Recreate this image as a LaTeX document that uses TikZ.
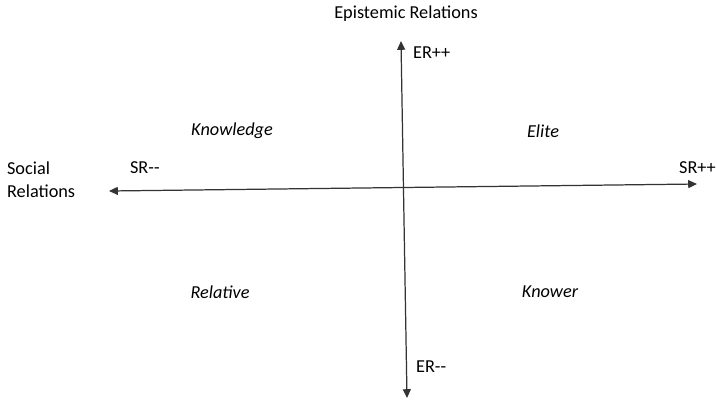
\documentclass[tikz,border=0pt]{standalone}
\usepackage{fontspec}
\setmainfont{Carlito}
\usetikzlibrary{arrows.meta}

\begin{document}
\begin{tikzpicture}[
x = 0.02cm, y = -0.02cm,
every node/.style = {font = \fontsize{10.4}{13}\selectfont, inner sep = 1pt},
quadrant/.style = {font = \fontsize{10.4}{13}\selectfont\itshape},
axis/.style = {{Triangle[length=5pt,width=4.5pt]}-{Triangle[length=5pt,width=4.5pt]}, line width = 0.7pt, black!80}
]
\useasboundingbox (0,0) rectangle (717,400);
% axis end points
\coordinate (srlow) at (109,191);
\coordinate (srhigh) at (697,184);
\coordinate (erhigh) at (401,41);
\coordinate (erlow) at (407,398);
\draw[axis] (srlow) -- (srhigh);
\draw[axis] (erlow) -- (erhigh);
% axis titles
\node (ertitle) at (406,14) {Epistemic Relations};
\node[anchor = west, align = left] (srtitle) at (5,180) {Social\\Relations};
\node[anchor = west] (erplus) at (411,53) {ER++};
\node[anchor = west] (erminus) at (414,367) {ER-{}-};
\node[anchor = west] (srminus) at (128,168) {SR-{}-};
\node[anchor = west] (srplus) at (677,168) {SR++};
% the four codes
\node[quadrant] (knowledge) at (232,131) {Knowledge};
\node[quadrant] (elite) at (543,131) {Elite};
\node[quadrant] (relative) at (220,292) {Relative};
\node[quadrant] (knower) at (550,292) {Knower};
\end{tikzpicture}
\end{document}
